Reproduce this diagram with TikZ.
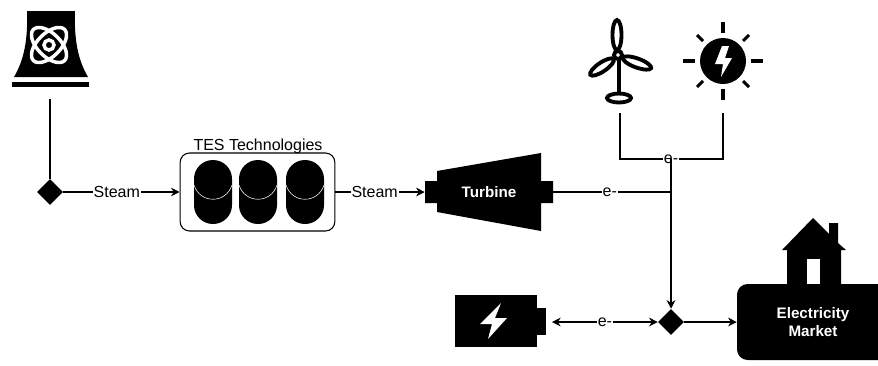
\documentclass[tikz,border=0pt]{standalone}
\usepackage{fontspec}
\setmainfont{Liberation Sans}
\usetikzlibrary{arrows.meta,shapes.geometric}

\begin{document}
\begin{tikzpicture}[x=0.75pt,y=-0.75pt,font=\fontsize{12}{14}\selectfont,
    flow/.style ={thick},
    arrow/.style ={thick,-{Stealth[length=6.5pt,width=6.5pt]}},
    wirelabel/.style ={fill=white, inner sep=0.8pt},
    icon/.style ={minimum width=60pt, minimum height=79.5pt, inner sep=0pt},
    junction/.style ={diamond, fill=black, minimum size=19.5pt, inner sep=0pt},
    tank/.style ={fill=black, rounded corners=14.2pt, minimum width=28.5pt, minimum height=48pt, inner sep=0pt},
    inked/.style ={line width=2.9pt, draw=black, fill=white},
    whitetext/.style ={text=white, font=\fontsize{11.4}{14}\selectfont\bfseries, align=center}]
   \useasboundingbox (0,0) rectangle (878,365);
   \clip (0,0) rectangle (878,365);

   \fill (27,11) -- (75,11) .. controls (74,40) and (78,60) .. (88,77) -- (14,77) .. controls (24,60) and (28,40) .. (27,11) -- cycle;
   \fill (12,82) rectangle (89,87);
   \draw[white, line width=2.6pt, rotate around={45:(49,45)}] (49,45) ellipse [x radius=22, y radius=11.5];
   \draw[white, line width=2.6pt, rotate around={-45:(49,45)}] (49,45) ellipse [x radius=22, y radius=11.5];
   \draw[white, line width=2.6pt, fill=black] (49,45) circle [radius=5];
   \node[icon, minimum height=73.5pt] (Plant) at (50,50) {};
   \node[junction] (SplitA) at (50,192) {};

   \node[draw, thick, rounded corners=7pt, minimum width=116pt, minimum height=58.5pt, inner sep=0pt] (TES) at (257.5,192) {};
   \node (TESTitle) at (258,146) {TES Technologies};
   \node[tank] (TankA) at (213,192) {};
   \node[tank] (TankB) at (258,192) {};
   \node[tank] (TankC) at (305,192) {};
   \draw[white] (194,185) .. controls (200,204) and (226,204) .. (232,185);
   \draw[white] (239,185) .. controls (245,204) and (271,204) .. (277,185);
   \draw[white] (286,185) .. controls (292,204) and (318,204) .. (324,185);

   \fill (425,181) -- (437,181) -- (437,171) -- (541,153) -- (541,181) -- (553,181) -- (553,203) -- (541,203) -- (541,231) -- (437,212) -- (437,203) -- (425,203) -- cycle;
   \node[whitetext, minimum width=96pt, minimum height=58.5pt, inner sep=0pt] (Turbine) at (489,192) {Turbine};

   \draw[inked] (617,35) ellipse [x radius=4.5, y radius=15];
   \draw[inked, rotate around={34:(602,67)}] (602,67) ellipse [x radius=14, y radius=4.5];
   \draw[inked, rotate around={-20:(637,63)}] (637,63) ellipse [x radius=15, y radius=4.5];
   \draw[line width=2.9pt] (619,58) -- (619,93);
   \draw[inked] (619,98) ellipse [x radius=12, y radius=4.5];
   \draw[inked] (618,55) circle [radius=4];
   \node[icon] (Wind) at (620,60) {};

   \fill (723,61) circle [radius=23];
   \fill[white] (722,46) -- (729,46) -- (725,58) -- (732,58) -- (721,77) -- (723,64) -- (715,64) -- cycle;
   \draw[line width=2.3pt] (723,22) -- (723,33);
   \draw[line width=2.3pt] (723,89) -- (723,100);
   \draw[line width=2.3pt] (683,61) -- (695,61);
   \draw[line width=2.3pt] (751,61) -- (763,61);
   \draw[line width=2.3pt] (697,35) -- (703,41);
   \draw[line width=2.3pt] (743,41) -- (749,35);
   \draw[line width=2.3pt] (697,87) -- (703,81);
   \draw[line width=2.3pt] (743,81) -- (749,87);
   \node[icon] (Sun) at (723,60) {};

   \fill (537,308) rectangle (546,335);
   \node[fill=black, minimum width=61.5pt, minimum height=39pt, inner sep=0pt] (Battery) at (496,321) {};
   \fill[white] (501,303) -- (480,324) -- (492,324) -- (488,339) -- (507,318) -- (495,318) -- cycle;
   \coordinate (BatteryEnd) at (552,322);

   \node[junction] (SplitB) at (671,322) {};

   \fill (787,284) -- (787,250) -- (782,250) -- (813,218) -- (829,234) -- (829,223) -- (838,223) -- (838,243) -- (846,250) -- (841,250) -- (841,284) -- cycle;
   \fill[white] (807,259) rectangle (820,284);
   \node[whitetext, fill=black, rounded corners=8pt, minimum width=114pt, minimum height=57pt, inner sep=0pt] (Market) at (813,322) {Electricity\\Market};

   \coordinate (BusA) at (671,159);
   \coordinate (BusB) at (671,192);

   \draw[flow] (Plant) to (SplitA);
   \draw[arrow] (SplitA) to node[wirelabel, pos=0.46] (SteamA) {Steam} (TES);
   \draw[arrow] (TES) to node[wirelabel, pos=0.44] (SteamB) {Steam} (Turbine);
   \draw[flow] (Turbine) to node[wirelabel, pos=0.48] (WireA) {e-} (BusB);
   \draw[flow] (Wind.south) |- (BusA);
   \draw[flow] (Sun.south) |- (BusA);
   \node[wirelabel] (WireB) at (BusA) {e-};
   \draw[arrow] (BusA) to (SplitB);
   \draw[arrow, {Stealth[length=6.5pt,width=6.5pt]}-{Stealth[length=6.5pt,width=6.5pt]}] (BatteryEnd) to node[wirelabel, pos=0.5] (WireC) {e-} (SplitB);
   \draw[arrow] (SplitB) to (Market);
 \end{tikzpicture}
\end{document}
